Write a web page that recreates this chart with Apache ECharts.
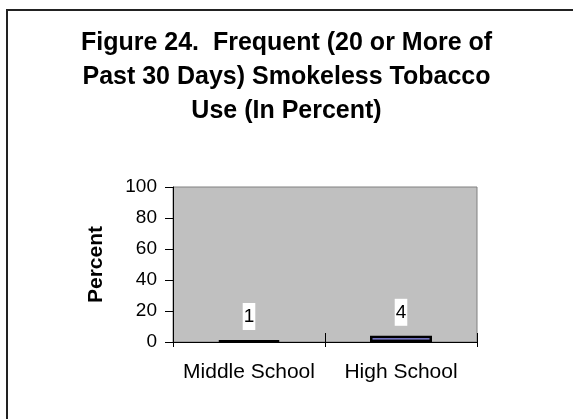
<!DOCTYPE html>
<html>
<head>
<meta charset="utf-8">
<script src="https://cdn.jsdelivr.net/npm/echarts@6/dist/echarts.min.js"></script>
<style>
  html, body { margin: 0; padding: 0; background: #ffffff; }
  #chart { width: 573px; height: 419px; }
</style>
</head>
<body>
<div id="chart"></div>
<script>
// Chart data
const titleText = 'Figure 24.  Frequent (20 or More of\nPast 30 Days) Smokeless Tobacco\nUse (In Percent)';
const categories = ['Middle School', 'High School'];
const percentValues = [1, 4];
const barFills = ['#000000', '#9999FF'];
const yTicks = [0, 20, 40, 60, 80, 100];

const FONT = '"Liberation Sans", Arial, sans-serif';

const chart = echarts.init(document.getElementById('chart'), null, { renderer: 'canvas' });

chart.setOption({
  backgroundColor: '#ffffff',
  animation: false,
  title: {
    text: titleText,
    left: 'center',
    top: 21,
    textStyle: {
      fontFamily: FONT,
      fontSize: 25,
      fontWeight: 'bold',
      color: '#000000',
      lineHeight: 34
    }
  },
  graphic: [{
    type: 'rect',
    shape: { x: 7, y: 10, width: 620, height: 460 },
    style: { fill: 'none', stroke: '#222222', lineWidth: 2 },
    silent: true,
    z: 100
  }],
  grid: {
    left: 173,
    right: 96,
    top: 187,
    bottom: 77,
    show: true,
    backgroundColor: '#C0C0C0',
    borderColor: '#808080',
    borderWidth: 1
  },
  xAxis: [{
    type: 'category',
    data: categories,
    axisLine: { show: true, lineStyle: { color: '#000000', width: 1 } },
    axisTick: { show: true, alignWithLabel: false, length: 5, lineStyle: { color: '#000000' } },
    axisLabel: { interval: 0, fontFamily: FONT, fontSize: 21, color: '#000000', margin: 20 },
    splitLine: { show: false }
  }, {
    // inner half of the cross tick marks
    type: 'category',
    position: 'bottom',
    data: categories,
    axisLine: { show: false },
    axisTick: { show: true, inside: true, length: 9, lineStyle: { color: '#000000' } },
    axisLabel: { show: false },
    splitLine: { show: false }
  }],
  yAxis: {
    type: 'value',
    min: yTicks[0],
    max: yTicks[yTicks.length - 1],
    interval: yTicks[1] - yTicks[0],
    name: 'Percent',
    nameLocation: 'middle',
    nameRotate: 90,
    nameGap: 66,
    nameTextStyle: { fontFamily: FONT, fontSize: 21, fontWeight: 'bold', color: '#000000' },
    axisLine: { show: true, lineStyle: { color: '#000000', width: 1 } },
    axisTick: { show: true, length: 8, lineStyle: { color: '#000000' } },
    axisLabel: { fontFamily: FONT, fontSize: 19, color: '#000000', margin: 16 },
    splitLine: { show: false }
  },
  series: [{
    type: 'bar',
    xAxisIndex: 0,
    barWidth: 62,
    data: percentValues.map((v, i) => ({
      value: v,
      itemStyle: { color: barFills[i], borderColor: '#000000', borderWidth: 2.5 }
    })),
    label: {
      show: true,
      position: 'top',
      distance: 10,
      fontFamily: FONT,
      fontSize: 19,
      color: '#000000',
      backgroundColor: '#ffffff',
      padding: [4, 1]
    }
  }]
});
</script>
</body>
</html>
